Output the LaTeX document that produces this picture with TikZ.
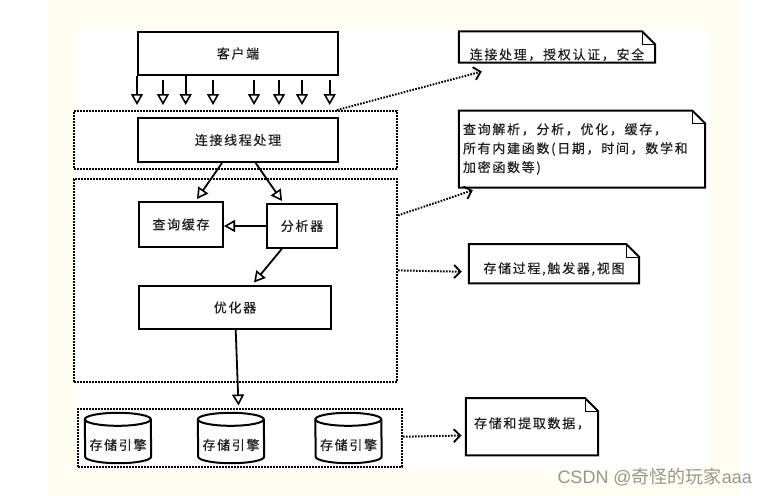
\documentclass[tikz,border=0pt]{standalone}
\usepackage{fontspec}
\newfontfamily\cjk[LetterSpace=13,FakeBold=0.3]{Noto Sans CJK SC}
\newfontfamily\wmcjk{Noto Sans CJK SC}
\newfontfamily\wmlat{Liberation Sans}
\usetikzlibrary{arrows.meta,calc}
\definecolor{cream}{RGB}{255,254,240}
\definecolor{ink}{RGB}{30,30,30}
\definecolor{wmgray}{RGB}{150,150,150}
\newcommand\drawnote[1]{%
  \draw[line width=2pt, line join=miter] (#1.north west) -- ($(#1.north east)+(-13,0)$) -- ($(#1.north east)+(0,13)$) -- (#1.south east) -- (#1.south west) -- cycle;
  \draw[line width=0.9pt] ($(#1.north east)+(-13,0)$) |- ($(#1.north east)+(0,13)$);
}
\newcommand\drawcyl[1]{%
  \draw[line width=2pt] ($(#1.north west)+(0,6.5)$) arc[start angle=180,end angle=0,x radius=33pt,y radius=6.5pt] -- ($(#1.south east)+(0,-6.5)$) arc[start angle=0,end angle=-180,x radius=33pt,y radius=6.5pt] -- cycle;
  \draw[line width=2pt] ($(#1.north west)+(0,6.5)$) arc[start angle=180,end angle=360,x radius=33pt,y radius=6.5pt];
}
\begin{document}
\begin{tikzpicture}[x=1pt,y=-1pt,
  box/.style={draw=black, line width=2pt, fill=white, inner sep=0pt, font=\cjk\fontsize{13}{15}\selectfont, text=ink},
  grp/.style={draw=black, line width=2pt, dash pattern=on 1.6pt off 1.4pt, inner sep=0pt},
  flow/.style={line width=1.8pt, -{Triangle[open,length=11pt,width=12pt,line width=1.6pt]}},
  link/.style={line width=2pt, dash pattern=on 1.6pt off 1.4pt, -{Straight Barb[length=6.5pt,width=13pt,line width=1.8pt]}},
  notetext/.style={inner sep=0pt, font=\cjk\fontsize{13}{19}\selectfont, text=ink},
  cyl/.style={inner sep=0pt, font=\cjk\fontsize{13}{15}\selectfont, text=ink, minimum width=66pt, minimum height=50pt, text height=36.9pt, text depth=13.1pt}
]
\useasboundingbox (0,0) rectangle (767,495);
\fill[white] (0,0) rectangle (767,495);
\fill[cream] (48,0) rectangle (741,495);
\fill[white] (73,30) rectangle (707,468);

% groups
\node[grp, minimum width=323pt, minimum height=58pt] (g1) at (235.5,140) {};
\node[grp, minimum width=323pt, minimum height=203pt] (g2) at (235.5,280.5) {};
\node[grp, minimum width=324pt, minimum height=58pt] (g3) at (240,438) {};

% boxes
\node[box, minimum width=200pt, minimum height=43pt] (client) at (238,53.5) {客户端};
\node[box, minimum width=200pt, minimum height=44pt] (conn) at (238,140) {连接线程处理};
\node[box, minimum width=84pt, minimum height=45pt] (cache) at (181,224.5) {查询缓存};
\node[box, minimum width=70pt, minimum height=44pt] (parser) at (302,226) {分析器};
\node[box, minimum width=192pt, minimum height=43pt] (opt) at (235,307.5) {优化器};

% storage engines
\node[cyl] (c1) at (118,438) {存储引擎};
\node[cyl] (c2) at (231,438) {存储引擎};
\node[cyl] (c3) at (348.5,438) {存储引擎};
\drawcyl{c1}
\drawcyl{c2}
\drawcyl{c3}

% notes
\node[notetext, minimum width=196pt, minimum height=30.6pt, text height=26.4pt, text depth=1.6pt] (n1) at (557,47) {连接处理，授权认证，安全};
\node[notetext, minimum width=246pt, minimum height=76.6pt, text width=238pt, align=left] (n2) at (582,149) {查询解析，分析，优化，缓存，\\所有内建函数(日期，时间，数学和\\加密函数等)};
\node[notetext, minimum width=170pt, minimum height=39pt, text height=20.6pt, text depth=1.6pt] (n3) at (554,263.7) {存储过程,触发器,视图};
\node[notetext, minimum width=132pt, minimum height=56.7pt, text height=26pt, text depth=23pt] (n4) at (532,426.7) {存储和提取数据，};
\drawnote{n1}
\drawnote{n2}
\drawnote{n3}
\drawnote{n4}

% client arrows
\foreach \dx/\gp in {0/0,26/4,48.7/0,76/4,117/4,142/4,165/4,192.7/4}
  \draw[flow] ($(client.south west)+(\dx,\gp)$) -- ($(client.south west |- g1.north)+(\dx,-5)$);

% flow arrows
\draw[flow] ($(conn.south west)+(85,0)$) -- ($(cache.north west)+(59,-2)$);
\draw[flow] ($(conn.south west)+(118.7,0)$) -- ($(parser.north west)+(16,-2)$);
\draw[flow] (parser.west) -- (parser.west -| cache.east);
\draw[flow] ($(parser.south west)+(15.7,0)$) -- ($(opt.north west)+(116,-2.5)$);
\draw[flow] ($(opt.south)+(0.7,0)$) -- ($(g3.north)+(-1.5,-2.5)$);

% links to notes
\draw[link] ($(g1.north west)+(264,0)$) -- ($(n1.south west)+(23,9)$);
\draw[link] ($(g2.north east)+(0,37.4)$) -- ($(n2.south west)+(14,2.7)$);
\draw[link] ($(g2.north east)+(0,92.4)$) -- ($(n3.west)+(-7,8)$);
\draw[link] ($(g3.east)+(0,-1.3)$) -- ($(n4.west)+(-4.3,8.8)$);

% watermark
\node[anchor=base east, inner sep=0pt, text=wmgray, font=\fontsize{18}{20}\selectfont] (wm) at (752,483.5) {\wmlat CSDN @\wmcjk 奇怪的玩家\wmlat aaa};
\end{tikzpicture}
\end{document}
